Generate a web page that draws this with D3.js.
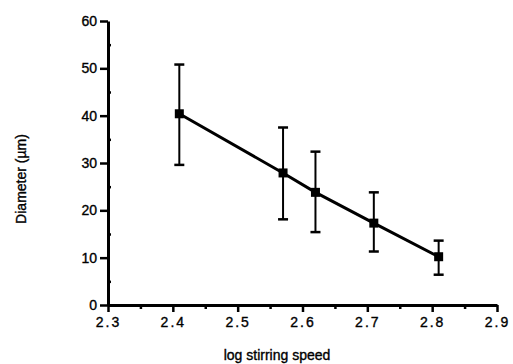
<!DOCTYPE html>
<html>
<head>
<meta charset="utf-8">
<script src="https://cdn.jsdelivr.net/npm/d3@7"></script>
<style>
  body { margin: 0; background: #fff; }
  text { font-family: "Liberation Sans", Arial, sans-serif; fill: #000; stroke: #000; stroke-width: 0.35px; }
  .axis path.domain { stroke: #000; stroke-width: 3px; }
  .axis line { stroke: #000; stroke-width: 2.5px; }
</style>
</head>
<body>
<div id="chart"></div>
<script>
// data
var speed = [2.41, 2.57, 2.62, 2.71, 2.81];
var diameter = [40.4, 27.9, 23.8, 17.3, 10.2];
var errTop = [50.8, 37.5, 32.4, 23.8, 13.6];
var errBottom = [29.6, 18.1, 15.4, 11.3, 6.4];
var xTicks = [2.3, 2.4, 2.5, 2.6, 2.7, 2.8, 2.9];
var yTicks = [0, 10, 20, 30, 40, 50, 60];

var margin = { top: 21, right: 16, bottom: 59, left: 108 },
    width = 513 - margin.left - margin.right,
    height = 364 - margin.top - margin.bottom;

var svg = d3.select("#chart").append("svg")
    .attr("width", 513)
    .attr("height", 364)
    .append("g")
    .attr("transform", "translate(" + margin.left + "," + margin.top + ")");

var xScale = d3.scaleLinear().domain([2.3, 2.9]).range([0, 389]);
var yScale = d3.scaleLinear().domain([0, 60]).range([height, 0]);

// minor ticks first
var xMinor = svg.append("g")
    .attr("class", "axis")
    .attr("transform", "translate(0," + height + ")")
    .call(d3.axisBottom(xScale).tickValues(d3.range(2.35, 2.9, 0.1)).tickSize(4).tickFormat(""));
xMinor.select(".domain").remove();

var yMinor = svg.append("g")
    .attr("class", "axis")
    .call(d3.axisRight(yScale).tickValues(d3.range(5, 60, 10)).tickSize(3).tickFormat(""));
yMinor.select(".domain").remove();

// x axis
var xNode = svg.append("g")
    .attr("class", "axis")
    .attr("transform", "translate(0," + height + ")")
    .call(d3.axisBottom(xScale).tickValues(xTicks).tickSize(7).tickSizeOuter(0)
        .tickFormat(d3.format(".1f")));
xNode.selectAll("text")
    .attr("y", 12)
    .style("font-size", "14px")
    .style("letter-spacing", "2px");

// y axis
var yNode = svg.append("g")
    .attr("class", "axis")
    .call(d3.axisLeft(yScale).tickValues(yTicks).tickSize(8).tickSizeOuter(0));
yNode.selectAll("text")
    .attr("x", -11)
    .style("font-size", "14px");

// axis titles
svg.append("text")
    .attr("x", 169)
    .attr("y", height + 55)
    .attr("text-anchor", "middle")
    .style("font-size", "14px")
    .text("log stirring speed");

svg.append("text")
    .attr("transform", "translate(-82," + (height / 2 + 16) + ") rotate(-90)")
    .attr("text-anchor", "middle")
    .style("font-size", "14px")
    .text("Diameter (\u00b5m)");

// error bars
var idx = d3.range(speed.length);
svg.selectAll(".err")
    .data(idx).enter().append("line")
    .attr("class", "err")
    .attr("x1", function (i) { return xScale(speed[i]); })
    .attr("x2", function (i) { return xScale(speed[i]); })
    .attr("y1", function (i) { return yScale(errTop[i]); })
    .attr("y2", function (i) { return yScale(errBottom[i]); })
    .attr("stroke", "#000").attr("stroke-width", 2);

[errTop, errBottom].forEach(function (arr) {
    svg.selectAll(null)
        .data(idx).enter().append("line")
        .attr("x1", function (i) { return xScale(speed[i]) - 5; })
        .attr("x2", function (i) { return xScale(speed[i]) + 5; })
        .attr("y1", function (i) { return yScale(arr[i]); })
        .attr("y2", function (i) { return yScale(arr[i]); })
        .attr("stroke", "#000").attr("stroke-width", 2.5);
});

// line
var lineFunction = d3.line()
    .x(function (i) { return xScale(speed[i]); })
    .y(function (i) { return yScale(diameter[i]); });
svg.append("path")
    .attr("d", lineFunction(idx))
    .attr("fill", "none")
    .attr("stroke", "#000")
    .attr("stroke-width", 3);

// markers
svg.selectAll(".dot")
    .data(idx).enter().append("rect")
    .attr("class", "dot")
    .attr("x", function (i) { return xScale(speed[i]) - 4.5; })
    .attr("y", function (i) { return yScale(diameter[i]) - 4.5; })
    .attr("width", 9)
    .attr("height", 9)
    .attr("fill", "#000");
</script>
</body>
</html>
